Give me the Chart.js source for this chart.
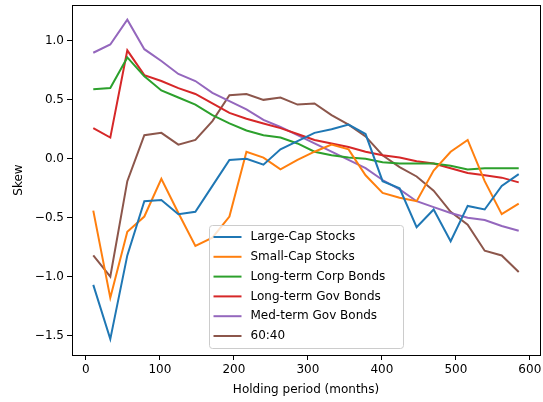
<!DOCTYPE html>
<html>
<head>
<meta charset="utf-8">
<script src="https://cdn.jsdelivr.net/npm/chart.js@4.4.1/dist/chart.umd.min.js"></script>
<style>
    html, body { margin: 0; padding: 0; background: #fff; }
    #skewChart { display: block; }
</style>
</head>
<body>
<canvas id="skewChart" width="543" height="402"></canvas>
<script>
// Holding periods in months
const months = [10, 33, 56, 79, 102, 125, 148, 171, 194, 217, 240, 263, 286,
    309, 332, 355, 378, 401, 424, 447, 470, 493, 516, 539, 562, 585];

// Skew of returns per asset class
const largeCap = [-1.07, -1.53, -0.82, -0.36, -0.35, -0.47, -0.45, -0.23, -0.01, 0.00, -0.05, 0.08, 0.15,
    0.22, 0.25, 0.29, 0.21, -0.19, -0.25, -0.58, -0.43, -0.70, -0.40, -0.43, -0.23, -0.13];
const smallCap = [-0.44, -1.18, -0.62, -0.49, -0.17, -0.46, -0.74, -0.67, -0.49, 0.06, 0.01, -0.09, -0.01,
    0.06, 0.12, 0.08, -0.14, -0.29, -0.33, -0.36, -0.10, 0.06, 0.16, -0.19, -0.47, -0.38];
const corpBonds = [0.59, 0.60, 0.86, 0.70, 0.58, 0.52, 0.46, 0.37, 0.30, 0.24, 0.20, 0.18, 0.13,
    0.06, 0.03, 0.01, 0.00, -0.03, -0.04, -0.04, -0.04, -0.06, -0.09, -0.08, -0.08, -0.08];
const govBonds = [0.26, 0.18, 0.92, 0.71, 0.66, 0.60, 0.55, 0.47, 0.39, 0.34, 0.30, 0.26, 0.21,
    0.16, 0.13, 0.10, 0.06, 0.03, 0.01, -0.02, -0.04, -0.08, -0.12, -0.14, -0.16, -0.20];
const medGovBonds = [0.90, 0.97, 1.18, 0.93, 0.83, 0.72, 0.66, 0.56, 0.49, 0.42, 0.33, 0.27, 0.20,
    0.13, 0.06, -0.01, -0.08, -0.18, -0.26, -0.36, -0.41, -0.46, -0.50, -0.52, -0.57, -0.61];
const mix6040 = [-0.82, -1.00, -0.19, 0.20, 0.22, 0.12, 0.16, 0.32, 0.54, 0.55, 0.50, 0.52, 0.46,
    0.47, 0.37, 0.29, 0.19, 0.03, -0.07, -0.15, -0.27, -0.45, -0.56, -0.78, -0.82, -0.96];

const seriesNames = ['Large-Cap Stocks', 'Small-Cap Stocks', 'Long-term Corp Bonds',
    'Long-term Gov Bonds', 'Med-term Gov Bonds', '60:40'];
const seriesValues = [largeCap, smallCap, corpBonds, govBonds, medGovBonds, mix6040];

// Axis ticks
const xTicks = [0, 100, 200, 300, 400, 500, 600];
const yTicks = [-1.5, -1.0, -0.5, 0.0, 0.5, 1.0];

const colors = ['#1f77b4', '#ff7f0e', '#2ca02c', '#d62728', '#9467bd', '#8c564b'];

Chart.defaults.font.family = '"DejaVu Sans", sans-serif';
Chart.defaults.font.size = 12;
Chart.defaults.color = '#000';

/**
 * Draws the box around the plot area
 */
const frame = {
    id: 'frame',
    afterDraw(chart) {
        const { ctx, chartArea: a } = chart;
        ctx.save();
        ctx.strokeStyle = '#000';
        ctx.lineWidth = 1;
        ctx.strokeRect(a.left + 0.5, a.top + 0.5, a.right - a.left, a.bottom - a.top);
        ctx.restore();
    }
};

/**
 * Boxed legend with line samples, placed inside the plot area
 */
const boxLegend = {
    id: 'boxLegend',
    afterDraw(chart) {
        const { ctx, chartArea: a } = chart;
        const x = a.left + 137.5;
        const y = a.top + 220.5;
        const w = 194;
        const h = 123;
        const rowH = 19.8;

        ctx.save();
        ctx.beginPath();
        ctx.roundRect(x, y, w, h, 3);
        ctx.fillStyle = 'rgba(255, 255, 255, 0.8)';
        ctx.fill();
        ctx.strokeStyle = '#cccccc';
        ctx.lineWidth = 1;
        ctx.stroke();

        ctx.font = '12px "DejaVu Sans", sans-serif';
        ctx.textBaseline = 'middle';
        ctx.textAlign = 'left';
        chart.data.datasets.forEach((ds, i) => {
            const rowY = y + 11.5 + i * rowH;
            ctx.beginPath();
            ctx.moveTo(x + 4, rowY);
            ctx.lineTo(x + 32, rowY);
            ctx.strokeStyle = ds.borderColor;
            ctx.lineWidth = 2;
            ctx.stroke();
            ctx.fillStyle = '#000';
            ctx.fillText(ds.label, x + 41, rowY);
        });
        ctx.restore();
    }
};

const datasets = seriesNames.map((name, i) => ({
    label: name,
    data: months.map((m, j) => ({ x: m, y: seriesValues[i][j] })),
    borderColor: colors[i],
    backgroundColor: colors[i],
    borderWidth: 2,
    pointRadius: 0,
    tension: 0,
    fill: false
}));

const tickGrid = {
    drawOnChartArea: false,
    drawTicks: true,
    tickLength: 5,
    color: '#000',
    lineWidth: 1
};

// fixed axis sizes, no extra room for overhanging labels
function fixSize(prop, size) {
    return scale => {
        scale[prop] = size;
        scale.paddingTop = 0;
        scale.paddingBottom = 0;
        scale.paddingLeft = 0;
        scale.paddingRight = 0;
    };
}

new Chart(document.getElementById('skewChart'), {
    type: 'line',
    data: { datasets },
    options: {
        responsive: false,
        devicePixelRatio: 1,
        animation: false,
        layout: { padding: { top: 5, right: 3, left: 0, bottom: 0 } },
        plugins: {
            legend: { display: false },
            tooltip: { enabled: false }
        },
        scales: {
            x: {
                type: 'linear',
                min: -18.75,
                max: 613.75,
                afterBuildTicks: scale => { scale.ticks = xTicks.map(v => ({ value: v })); },
                afterFit: fixSize('height', 47),
                grid: tickGrid,
                border: { display: false },
                ticks: { padding: 3, maxRotation: 0, color: '#000' },
                title: {
                    display: true,
                    text: 'Holding period (months)',
                    color: '#000',
                    padding: { top: 0, bottom: 5 }
                }
            },
            y: {
                type: 'linear',
                min: -1.665,
                max: 1.305,
                afterBuildTicks: scale => { scale.ticks = yTicks.map(v => ({ value: v })); },
                afterFit: fixSize('width', 72),
                grid: tickGrid,
                border: { display: false },
                ticks: {
                    padding: 3,
                    color: '#000',
                    callback: v => v.toFixed(1).replace('-', '\u2212')
                },
                title: {
                    display: true,
                    text: 'Skew',
                    color: '#000',
                    padding: { top: 12, bottom: 0 }
                }
            }
        }
    },
    plugins: [frame, boxLegend]
});
</script>
</body>
</html>
